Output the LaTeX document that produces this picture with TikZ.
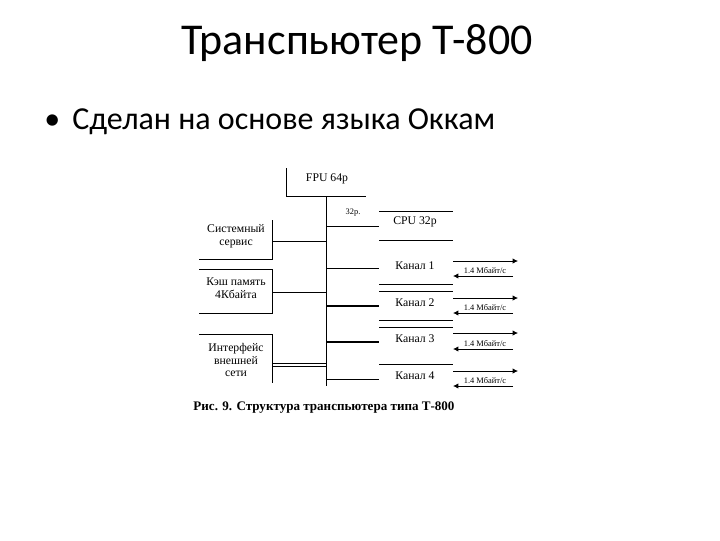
\documentclass[tikz,border=0pt]{standalone}
\usepackage{fontspec}
\usetikzlibrary{arrows.meta}
\setmainfont{Carlito}
\newfontfamily\dfont{Liberation Serif}
\begin{document}
\begin{tikzpicture}[x=0.75pt,y=-0.75pt,
  ln/.style={line width=0.6pt},
  lb/.style={font=\dfont\fontsize{8.8}{9.6}\selectfont,inner sep=0pt,align=center},
  sm/.style={font=\dfont\fontsize{6.3}{7}\selectfont,inner sep=0pt},
  ar/.style={ln,-{Latex[length=4pt,width=4pt]}}]
\useasboundingbox (0,0) rectangle (720,540);
\node[font=\fontsize{33}{36}\selectfont] (title) at (357,43) {Транспьютер Т-800};
\node[font=\fontsize{24}{28}\selectfont,anchor=base west,inner sep=0pt] (bul) at (44,129) {•};
\node[font=\fontsize{24}{28}\selectfont,anchor=base west,inner sep=0pt] (txt) at (72,129) {Сделан на основе языка Оккам};
% FPU
\draw[ln] (286,168) -- (286,196) -- (366,196);
\node[lb] (fpu) at (327,179) {FPU 64p};
% bus
\coordinate (bt) at (326,196); \coordinate (bb) at (326,386);
\draw[ln] (bt) -- (bb);
\node[sm] (w32) at (353,213) {32p.};
% CPU
\draw[ln] (379,211) -- (453,211); \draw[ln] (379,240) -- (453,240);
\node[lb] (cpu) at (415,222) {CPU 32p};
\draw[ln] (326,226) -- (379,226);
% left boxes
\draw[ln] (272,220) -- (272,259) -- (199,259);
\node[lb] (sys) at (236,236) {Системный\\сервис};
\draw[ln] (272,241) -- (326,241);
\draw[ln] (199,269) -- (272,269) -- (272,313) -- (199,313);
\node[lb] (cache) at (236,288) {Кэш память\\4Кбайта};
\draw[ln] (272,292) -- (326,292);
\draw[ln] (199,334) -- (272,334) -- (272,383);
\node[lb] (intf) at (236,360) {Интерфейс\\внешней\\сети};
\draw[ln] (272,363) -- (326,363); \draw[ln] (272,366) -- (326,366);
% channels
\draw[ln] (326,268) -- (379,268);
\node[lb] (k1) at (415,266) {Канал 1};
\draw[ln] (379,284) -- (453,284);
\draw[ln] (379,291) -- (453,291);
\node[lb] (k2) at (415,303) {Канал 2};
\draw[line width=1.5pt] (326,306) -- (379,306);
\draw[ln] (379,320) -- (453,320);
\draw[ln] (379,327) -- (453,327);
\node[lb] (k3) at (415,339) {Канал 3};
\draw[line width=1.5pt] (326,342) -- (379,342);
\draw[ln] (379,364) -- (453,364);
\node[lb] (k4) at (415,376) {Канал 4};
\draw[ln] (326,379) -- (379,379);
\foreach \a/\b in {261/276,298/313,333/349,371/386}{
  \draw[ar] (453,\a) -- (518,\a);
  \draw[ar] (513,\b) -- (453,\b);
  \node[sm] at (485,\b-5) {1.4 Мбайт/с};
}
\node[font=\dfont\bfseries\fontsize{9.8}{11}\selectfont] (cap) at (324,408) {Рис. 9. Структура транспьютера типа Т-800};
\end{tikzpicture}
\end{document}
